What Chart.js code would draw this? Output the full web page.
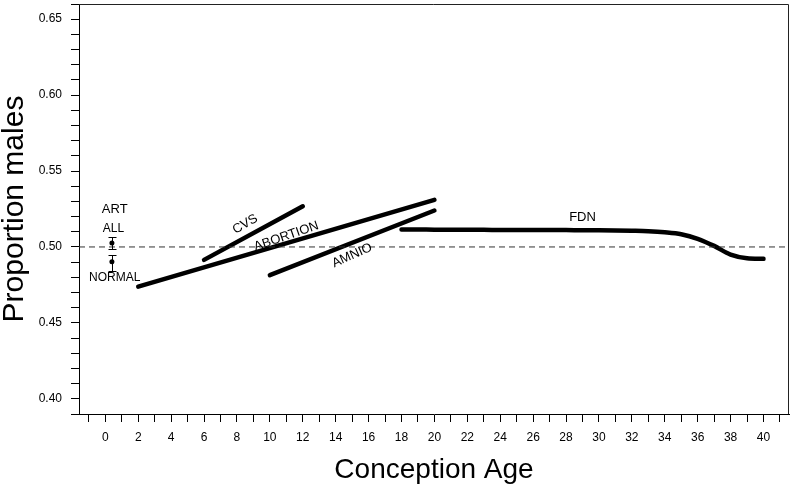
<!DOCTYPE html>
<html lang="en">
<head>
<meta charset="UTF-8">
<title>Proportion males - Conception Age</title>
<script src="https://cdn.jsdelivr.net/npm/chart.js"></script>
<style>
    body { margin: 0; background: #fff; }
    canvas { display: block; }
</style>
</head>
<body>
<canvas id="grafico" width="793" height="491"></canvas>
<script>
    // eixos
    var xMin = -1.6, xMax = 41.55
    var yMin = 0.39, yMax = 0.66
    var refProp = 0.5

    // series (idade -> proporcao de meninos)
    var cvsAge = [6, 12]
    var cvsProp = [0.4915, 0.5268]
    var abortionAge = [2, 20]
    var abortionProp = [0.4739, 0.5310]
    var amnioAge = [10, 20]
    var amnioProp = [0.4815, 0.5240]
    var fdnAge = [18, 19, 20, 21, 22, 23, 24, 25, 26, 27, 28, 29, 30, 31, 32, 33, 34, 35, 36, 37, 38, 39, 40]
    var fdnProp = [0.5115, 0.5115, 0.5114, 0.5114, 0.5113, 0.5113, 0.5112, 0.5112, 0.5112, 0.5111, 0.5111, 0.5110,
        0.5110, 0.5109, 0.5107, 0.5104, 0.5097, 0.5084, 0.5054, 0.5007, 0.4950, 0.4926, 0.4922]

    // ART (ALL / NORMAL) com barra de erro
    var artGroups = ['ALL', 'NORMAL']
    var artAge = [0.4, 0.4]
    var artProp = [0.5026, 0.4903]
    var artLow = [0.4987, 0.4844]
    var artHigh = [0.5065, 0.4949]

    // ticks
    var xTickValues = []
    for (var i = -1; i <= 41; i++) xTickValues.push(i)
    var xLabelValues = [0, 2, 4, 6, 8, 10, 12, 14, 16, 18, 20, 22, 24, 26, 28, 30, 32, 34, 36, 38, 40]
    var yTickValues = []
    for (var k = 39; k <= 66; k++) yTickValues.push(k / 100)
    var yLabelValues = [0.40, 0.45, 0.50, 0.55, 0.60, 0.65]

    function pts(xs, ys) {
        return xs.map(function (x, i) { return { x: x, y: ys[i] } })
    }

    var fonte = "'Liberation Sans', Arial, sans-serif"

    // textos dentro do grafico (posicao em unidades dos eixos)
    var textos = [
        { t: 'ART', x: 0.57, y: 0.5247, size: 13, rot: 0 },
        { t: artGroups[0], x: 0.49, y: 0.5119, size: 12, rot: 0 },
        { t: artGroups[1], x: 0.57, y: 0.4798, size: 12, rot: 0 },
        { t: 'CVS', x: 8.5, y: 0.5150, size: 13, rot: -30 },
        { t: 'ABORTION', x: 11.0, y: 0.5070, size: 13, rot: -19 },
        { t: 'AMNIO', x: 15.0, y: 0.4944, size: 13, rot: -24 },
        { t: 'FDN', x: 29.0, y: 0.5194, size: 13, rot: 0 }
    ]

    var extras = {
        id: 'extras',
        afterDatasetsDraw: function (chart) {
            var ctx = chart.ctx, sx = chart.scales.x, sy = chart.scales.y, a = chart.chartArea
            ctx.save()
            // barras de erro
            ctx.strokeStyle = '#000'
            ctx.lineWidth = 1
            artAge.forEach(function (age, i) {
                var px = Math.round(sx.getPixelForValue(age)) + 0.5
                var lo = Math.round(sy.getPixelForValue(artLow[i])) + 0.5
                var hi = Math.round(sy.getPixelForValue(artHigh[i])) + 0.5
                ctx.beginPath()
                ctx.moveTo(px, lo); ctx.lineTo(px, hi)
                ctx.moveTo(px - 4, lo); ctx.lineTo(px + 4, lo)
                ctx.moveTo(px - 4, hi); ctx.lineTo(px + 4, hi)
                ctx.stroke()
            })
            // textos
            ctx.fillStyle = '#000'
            ctx.textAlign = 'center'
            ctx.textBaseline = 'middle'
            textos.forEach(function (o) {
                ctx.save()
                ctx.translate(sx.getPixelForValue(o.x), sy.getPixelForValue(o.y))
                ctx.rotate(o.rot * Math.PI / 180)
                ctx.font = o.size + 'px ' + fonte
                ctx.fillText(o.t, 0, 0)
                ctx.restore()
            })
            // moldura (topo e direita)
            ctx.strokeStyle = '#222'
            ctx.beginPath()
            ctx.moveTo(a.left, a.top + 0.5)
            ctx.lineTo(a.right - 0.5, a.top + 0.5)
            ctx.lineTo(a.right - 0.5, a.bottom)
            ctx.stroke()
            ctx.restore()
        }
    }

    var grossa = { borderColor: '#000', borderWidth: 4.5, pointRadius: 0, fill: false, borderCapStyle: 'round' }

    var data = {
        datasets: [
            {
                label: 'ref', data: pts([xMin, xMax], [refProp, refProp]),
                borderColor: '#333', borderWidth: 1, borderDash: [6, 4], pointRadius: 0
            },
            Object.assign({ label: 'CVS', data: pts(cvsAge, cvsProp) }, grossa),
            Object.assign({ label: 'ABORTION', data: pts(abortionAge, abortionProp) }, grossa),
            Object.assign({ label: 'AMNIO', data: pts(amnioAge, amnioProp) }, grossa),
            Object.assign({ label: 'FDN', data: pts(fdnAge, fdnProp), cubicInterpolationMode: 'monotone' }, grossa),
            {
                label: 'ART', data: pts(artAge, artProp), showLine: false,
                pointRadius: 2.5, pointBackgroundColor: '#000', pointBorderColor: '#000', pointBorderWidth: 0
            }
        ]
    }

    var config = {
        type: 'line',
        data: data,
        options: {
            responsive: false,
            animation: false,
            devicePixelRatio: 1,
            layout: { padding: { top: 0, right: 4, left: 0, bottom: 0 } },
            plugins: { legend: { display: false }, tooltip: { enabled: false } },
            scales: {
                x: {
                    type: 'linear', min: xMin, max: xMax, bounds: 'data',
                    afterBuildTicks: function (s) { s.ticks = xTickValues.map(function (v) { return { value: v } }) },
                    afterFit: function (s) { s.height = 77; s.paddingLeft = 0; s.paddingRight = 0 },
                    grid: { drawOnChartArea: false, drawTicks: true, tickLength: 8, tickColor: '#000', color: '#000' },
                    border: { display: true, color: '#000', width: 1 },
                    ticks: {
                        autoSkip: false, maxRotation: 0, padding: 8, color: '#000',
                        font: { family: fonte, size: 12 },
                        callback: function (v) { return xLabelValues.indexOf(v) >= 0 ? String(v) : '' }
                    },
                    title: {
                        display: true, text: 'Conception Age', color: '#000',
                        font: { family: fonte, size: 28, lineHeight: 1 }, padding: { top: 0, bottom: 7 }
                    }
                },
                y: {
                    type: 'linear', min: yMin, max: yMax, bounds: 'data',
                    afterBuildTicks: function (s) { s.ticks = yTickValues.map(function (v) { return { value: v } }) },
                    afterFit: function (s) { s.width = 79; s.paddingTop = 0; s.paddingBottom = 0 },
                    grid: { drawOnChartArea: false, drawTicks: true, tickLength: 8, tickColor: '#000', color: '#000' },
                    border: { display: true, color: '#000', width: 1 },
                    ticks: {
                        autoSkip: false, padding: 9, color: '#000',
                        font: { family: fonte, size: 12 },
                        callback: function (v) {
                            var r = Math.round(v * 100) / 100
                            return yLabelValues.indexOf(r) >= 0 ? r.toFixed(2) : ''
                        }
                    },
                    title: {
                        display: true, text: 'Proportion males', color: '#000',
                        font: { family: fonte, size: 30, lineHeight: 1 }, padding: { top: 0, bottom: 0 }
                    }
                }
            }
        },
        plugins: [extras]
    }

    var myChart = new Chart(document.getElementById('grafico'), config)
</script>
</body>
</html>
